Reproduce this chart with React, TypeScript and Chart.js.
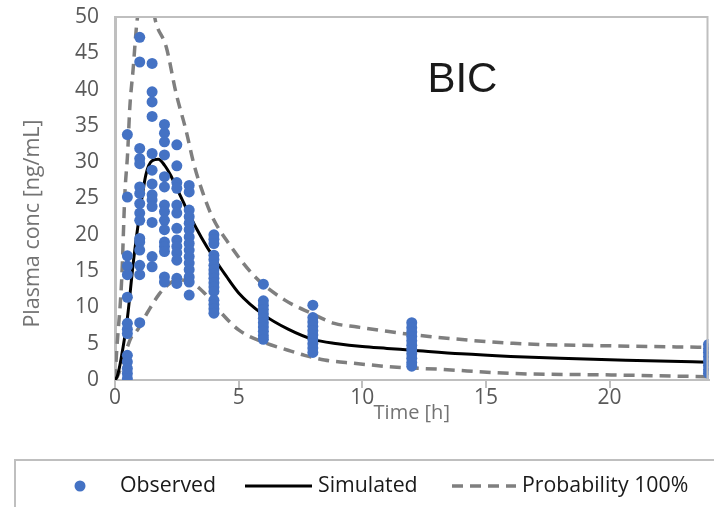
import React, { useEffect, useRef } from "react";
import { Chart, registerables } from "chart.js";

Chart.register(...registerables);

// ---- Observed data (time [h] -> plasma concentrations [ng/mL]) ----
const obsTimes = [0.5, 1, 1.5, 2, 2.5, 3, 4, 6, 8, 12, 24];
const obsT05 = [33.8, 25.2, 17.1, 15.7, 14.5, 11.4, 7.8, 7.0, 6.4, 3.4, 2.5, 1.6, 0.9, 0.2];
const obsT1 = [47.2, 43.8, 31.9, 30.5, 29.8, 26.6, 25.7, 24.3, 23.0, 22.0, 19.5, 19.0, 17.9, 15.8, 14.5, 7.9];
const obsT15 = [43.6, 39.7, 38.3, 36.3, 31.2, 28.9, 27.0, 25.5, 24.8, 23.9, 21.7, 17.0, 15.6];
const obsT2 = [35.2, 34.0, 32.8, 31.0, 28.0, 26.6, 24.1, 23.2, 22.0, 20.7, 19.0, 18.4, 17.7, 14.2, 13.5];
const obsT25 = [32.4, 29.5, 27.2, 26.4, 24.1, 23.0, 20.9, 19.3, 18.4, 17.5, 16.5, 14.0, 13.3];
const obsT3 = [26.8, 25.9, 23.4, 22.5, 21.6, 20.7, 19.7, 18.8, 17.9, 17.0, 16.1, 15.2, 14.2, 13.5, 11.7];
const obsT4 = [20.0, 19.4, 18.8, 17.2, 16.6, 15.8, 15.2, 14.6, 14.0, 13.4, 12.8, 12.2, 11.0, 10.4, 9.8, 9.2];
const obsT6 = [13.2, 10.9, 10.3, 9.7, 9.1, 8.5, 7.9, 7.3, 6.7, 6.1, 5.6];
const obsT8 = [10.3, 8.6, 8.0, 7.4, 6.8, 6.2, 5.6, 5.0, 4.4, 3.8];
const obsT12 = [7.9, 7.2, 6.6, 6.0, 5.4, 4.8, 4.2, 3.6, 3.0, 2.4, 1.9];
const obsT24 = [4.9, 4.3, 3.8, 3.2, 2.6, 2.0, 1.4, 0.9];
const obsByTime = [obsT05, obsT1, obsT15, obsT2, obsT25, obsT3, obsT4, obsT6, obsT8, obsT12, obsT24];

// ---- Simulated mean profile ----
const simTime = [0, 0.1, 0.25, 0.5, 0.75, 1, 1.25, 1.5, 1.75, 2, 2.25, 2.5, 2.75, 3, 3.5, 4, 4.5, 5, 6, 7, 8, 9, 10, 11, 12, 14, 16, 18, 20, 22, 24];
const simConc = [0, 0.6, 3.0, 8.5, 16.5, 23.0, 28.3, 30.2, 30.4, 29.6, 28.2, 26.4, 24.6, 22.8, 19.6, 16.8, 14.3, 12.0, 9.0, 7.0, 5.6, 5.0, 4.6, 4.35, 4.1, 3.6, 3.25, 3.0, 2.8, 2.6, 2.45];

// ---- Probability 100% band (upper / lower) ----
const upperTime = [0, 0.07, 0.27, 0.4, 0.51, 0.6, 0.73, 0.89, 1.1, 1.3, 1.5, 1.64, 2.07, 2.47, 2.87, 3.2, 3.55, 3.93, 4.6, 5.67, 6.87, 7.93, 8.87, 9.8, 11, 12.7, 16.1, 20.1, 24];
const upperConc = [0, 4.1, 13.8, 25.7, 31.2, 37.6, 42.7, 49.4, 53.0, 53.5, 52.0, 49.4, 45.9, 39.5, 34.4, 29.6, 25.8, 22.5, 18.8, 14.2, 11.0, 9.2, 7.8, 7.3, 6.7, 6.0, 5.05, 4.7, 4.5];
const lowerTime = [0, 0.1, 0.67, 0.87, 1.33, 1.8, 2.07, 2.5, 2.9, 3.55, 4.07, 5, 5.93, 7, 7.67, 8.47, 9.67, 11.4, 13, 16.07, 20.07, 24];
const lowerConc = [0, 0.5, 6.0, 6.7, 9.4, 11.9, 12.9, 13.8, 13.7, 12.2, 10.1, 6.9, 5.3, 4.1, 3.4, 2.75, 2.3, 1.75, 1.5, 0.9, 0.7, 0.45];

// ---- Axes / labels ----
const xMin = 0, xMax = 24, xStep = 5;
const yMin = 0, yMax = 50, yStep = 5;
const xTitle = "Time [h]";
const yTitle = "Plasma conc [ng/mL]";
const panelTitle = "BIC";
const legendLabels = ["Observed", "Simulated", "Probability 100%"];

const BLUE = "#4472C4";
const GRAY_LINE = "#7F7F7F";
const AXIS = "#BFBFBF";
const FONT = "'Open Sans', sans-serif";

function pairs(xs: number[], ys: number[]) {
  return xs.map((x, i) => ({ x, y: ys[i] }));
}

const decorPlugin = {
  id: "decor",
  afterDraw(chart: any) {
    const { ctx, chartArea } = chart;
    const xs = chart.scales.x;
    const ys = chart.scales.y;
    ctx.save();
    // plot frame top & right
    ctx.strokeStyle = AXIS;
    ctx.lineWidth = 2;
    ctx.beginPath();
    ctx.moveTo(chartArea.left, chartArea.top);
    ctx.lineTo(chartArea.right - 1, chartArea.top);
    ctx.lineTo(chartArea.right - 1, chartArea.bottom);
    ctx.stroke();

    // panel title
    ctx.fillStyle = "#1a1a1a";
    ctx.font = "42px 'Liberation Sans', Arial, sans-serif";
    ctx.textAlign = "center";
    ctx.textBaseline = "middle";
    ctx.fillText(panelTitle, xs.getPixelForValue(14.05), ys.getPixelForValue(41.3));

    // y axis title
    ctx.save();
    ctx.translate(33, (chartArea.top + chartArea.bottom) / 2 + 25);
    ctx.rotate(-Math.PI / 2);
    ctx.fillStyle = "#737373";
    ctx.font = `21.5px ${FONT}`;
    ctx.textAlign = "center";
    ctx.textBaseline = "middle";
    ctx.fillText(yTitle, 0, 0);
    ctx.restore();

    // legend box
    const ly = 460;
    ctx.strokeStyle = AXIS;
    ctx.lineWidth = 2;
    ctx.beginPath();
    ctx.moveTo(15, chart.height);
    ctx.lineTo(15, ly);
    ctx.lineTo(chart.width, ly);
    ctx.stroke();

    const cy = 486;
    ctx.font = `21.3px ${FONT}`;
    ctx.textAlign = "left";
    ctx.textBaseline = "middle";
    // observed
    ctx.fillStyle = BLUE;
    ctx.beginPath();
    ctx.arc(80, cy, 5.5, 0, Math.PI * 2);
    ctx.fill();
    ctx.fillStyle = "#1a1a1a";
    ctx.fillText(legendLabels[0], 120, cy);
    // simulated
    ctx.strokeStyle = "#000";
    ctx.lineWidth = 3;
    ctx.beginPath();
    ctx.moveTo(245, cy);
    ctx.lineTo(312, cy);
    ctx.stroke();
    ctx.fillText(legendLabels[1], 318, cy);
    // probability
    ctx.strokeStyle = GRAY_LINE;
    ctx.lineWidth = 3.5;
    ctx.setLineDash([11, 7]);
    ctx.beginPath();
    ctx.moveTo(452, cy);
    ctx.lineTo(516, cy);
    ctx.stroke();
    ctx.setLineDash([]);
    ctx.fillText(legendLabels[2], 522, cy);
    ctx.restore();
  },
};

export default function App() {
  const ref = useRef<HTMLCanvasElement | null>(null);
  useEffect(() => {
    document.body.style.margin = "0";
    const canvas = ref.current;
    if (!canvas) return;
    const observed: { x: number; y: number }[] = [];
    obsTimes.forEach((t, i) => obsByTime[i].forEach((v) => observed.push({ x: t, y: v })));

    const lineCommon = {
      showLine: true,
      pointRadius: 0,
      pointHoverRadius: 0,
      fill: false,
      cubicInterpolationMode: "monotone" as const,
    };

    const chart = new Chart(canvas, {
      type: "scatter",
      data: {
        datasets: [
          {
            label: legendLabels[0],
            data: observed,
            backgroundColor: BLUE,
            borderColor: BLUE,
            borderWidth: 0,
            pointRadius: 5.5,
            showLine: false,
          },
          {
            label: legendLabels[1],
            data: pairs(simTime, simConc),
            borderColor: "#000",
            borderWidth: 3,
            ...lineCommon,
          },
          {
            label: legendLabels[2],
            data: pairs(upperTime, upperConc),
            borderColor: GRAY_LINE,
            borderWidth: 3.5,
            borderDash: [11, 7],
            ...lineCommon,
          },
          {
            label: legendLabels[2] + " (lower)",
            data: pairs(lowerTime, lowerConc),
            borderColor: GRAY_LINE,
            borderWidth: 3.5,
            borderDash: [11, 7],
            ...lineCommon,
          },
        ],
      },
      options: {
        animation: false,
        responsive: false,
        devicePixelRatio: 1,
        layout: { padding: { top: 17, left: 0, right: 0, bottom: 0 } },
        plugins: {
          legend: { display: false },
          tooltip: { enabled: false },
          title: { display: false },
        },
        scales: {
          x: {
            type: "linear",
            min: xMin,
            max: xMax,
            afterFit: (s: any) => {
              s.height = 127;
            },
            ticks: {
              stepSize: xStep,
              includeBounds: false,
              color: "#595959",
              font: { family: FONT, size: 21 },
              padding: -3,
              maxRotation: 0,
            },
            grid: {
              drawOnChartArea: false,
              drawTicks: true,
              tickLength: 8,
              color: AXIS,
              lineWidth: 2,
            },
            border: { color: AXIS, width: 2 },
            title: {
              display: true,
              text: xTitle,
              color: "#737373",
              font: { family: FONT, size: 20 },
              padding: { top: 0, bottom: 82 },
            },
          },
          y: {
            type: "linear",
            min: yMin,
            max: yMax,
            afterFit: (s: any) => {
              s.width = 115;
            },
            ticks: {
              stepSize: yStep,
              color: "#595959",
              font: { family: FONT, size: 21 },
              padding: 0,
            },
            grid: {
              drawOnChartArea: false,
              drawTicks: true,
              tickLength: 16,
              tickColor: "rgba(0,0,0,0)",
              color: AXIS,
            },
            border: { color: AXIS, width: 3 },
          },
        },
      },
      plugins: [decorPlugin],
    } as any);
    return () => chart.destroy();
  }, []);

  return (
    <div style={{ width: 714, height: 507, position: "relative" }}>
      <canvas ref={ref} width={714} height={507} style={{ display: "block" }} />
    </div>
  );
}
